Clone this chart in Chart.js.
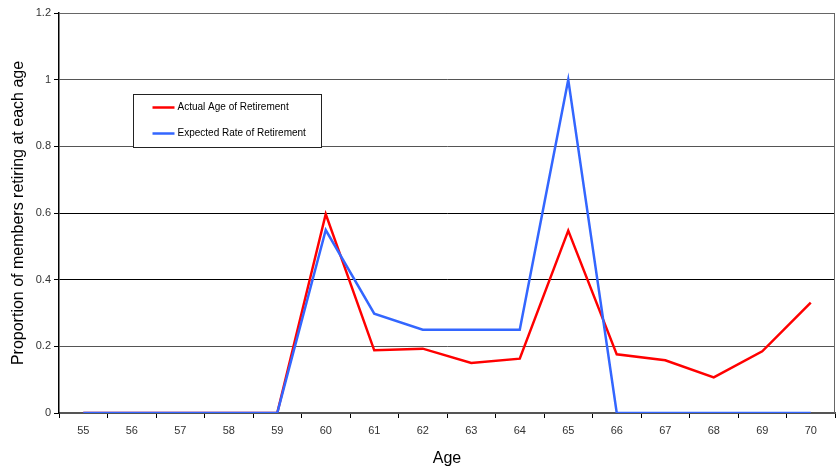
<!DOCTYPE html>
<html lang="en">
<head>
    <meta charset="UTF-8">
    <title>Retirement by Age</title>
    <script src="https://cdn.jsdelivr.net/npm/chart.js"></script>
    <style>
        body { margin: 0; background: #fff; }
        #wrap { width: 840px; height: 472px; position: relative; }
    </style>
</head>
<body>
    <div id="wrap"><canvas id="retChart"></canvas></div>
    <script>
        const ages = ['55', '56', '57', '58', '59', '60', '61', '62', '63', '64', '65', '66', '67', '68', '69', '70'];
        const actualRate = [0, 0, 0, 0, 0, 0.597, 0.188, 0.193, 0.15, 0.163, 0.547, 0.176, 0.158, 0.107, 0.185, 0.331];
        const expectedRate = [0, 0, 0, 0, 0, 0.549, 0.298, 0.25, 0.25, 0.25, 1.0, 0, 0, 0, 0, 0];
        const yTicks = [0, 0.2, 0.4, 0.6, 0.8, 1, 1.2];

        const narrow = "'Liberation Sans Narrow', 'Arial Narrow', 'Liberation Sans', sans-serif";

        // frame on top/right of plot area + boxed legend inside the plot
        const plotExtras = {
            id: 'plotExtras',
            afterDatasetsDraw(chart) {
                const { ctx, chartArea: a } = chart;
                ctx.save();
                ctx.strokeStyle = '#666';
                ctx.lineWidth = 1;
                ctx.beginPath();
                ctx.moveTo(a.left, a.top + 0.5);
                ctx.lineTo(a.right - 0.5, a.top + 0.5);
                ctx.lineTo(a.right - 0.5, a.bottom);
                ctx.stroke();

                // legend box
                const bx = 133.5, by = 94.5, bw = 188, bh = 53;
                ctx.fillStyle = '#fff';
                ctx.fillRect(bx, by, bw, bh);
                ctx.strokeStyle = '#222';
                ctx.strokeRect(bx, by, bw, bh);
                ctx.font = '10px ' + narrow;
                ctx.textBaseline = 'middle';
                chart.data.datasets.forEach((ds, i) => {
                    const y = by + 13 + i * 26;
                    ctx.strokeStyle = ds.borderColor;
                    ctx.lineWidth = 2.5;
                    ctx.beginPath();
                    ctx.moveTo(bx + 19, y);
                    ctx.lineTo(bx + 41, y);
                    ctx.stroke();
                    ctx.fillStyle = '#000';
                    ctx.fillText(ds.label, bx + 44, y);
                });
                ctx.restore();
            }
        };

        const ctx = document.getElementById('retChart').getContext('2d');
        new Chart(ctx, {
            type: 'line',
            data: {
                labels: ages,
                datasets: [{
                    label: 'Actual Age of Retirement',
                    data: actualRate,
                    borderColor: '#ff0000',
                    borderWidth: 2.5,
                    pointRadius: 0,
                    tension: 0,
                    order: 2
                }, {
                    label: 'Expected Rate of Retirement',
                    data: expectedRate,
                    borderColor: '#3366ff',
                    borderWidth: 2.5,
                    pointRadius: 0,
                    tension: 0,
                    order: 1
                }]
            },
            options: {
                responsive: true,
                maintainAspectRatio: false,
                animation: false,
                layout: { padding: { top: 13, right: 5, left: 0, bottom: 0 } },
                scales: {
                    x: {
                        offset: true,
                        grid: {
                            offset: true,
                            drawOnChartArea: false,
                            drawTicks: true,
                            tickLength: 5,
                            tickColor: '#000'
                        },
                        border: { color: '#555', width: 2 },
                        ticks: {
                            color: '#333',
                            font: { size: 11, family: narrow },
                            padding: 6,
                            maxRotation: 0,
                            autoSkip: false
                        },
                        title: {
                            display: true,
                            text: 'Age',
                            color: '#000',
                            font: { size: 16, family: narrow },
                            padding: { top: 4 }
                        },
                        afterFit: s => { s.height = 59; }
                    },
                    y: {
                        min: 0,
                        max: 1.2,
                        afterBuildTicks: s => { s.ticks = yTicks.map(v => ({ value: v })); },
                        grid: {
                            color: c => (c.tick && (c.tick.value === 0.4 || c.tick.value === 0.6)) ? '#000' : '#555',
                            lineWidth: 1,
                            drawTicks: true,
                            tickLength: 5,
                            tickColor: '#000'
                        },
                        border: { color: '#000', width: 1.5 },
                        ticks: {
                            color: '#333',
                            font: { size: 11, family: narrow },
                            padding: 3,
                            callback: v => String(v)
                        },
                        title: {
                            display: true,
                            text: 'Proportion of members retiring at each age',
                            color: '#000',
                            font: { size: 16, family: narrow },
                            padding: { top: 9, bottom: 0 }
                        },
                        afterFit: s => { s.width = 59; }
                    }
                },
                plugins: {
                    legend: { display: false },
                    tooltip: { enabled: false }
                }
            },
            plugins: [plotExtras]
        });
    </script>
</body>
</html>
